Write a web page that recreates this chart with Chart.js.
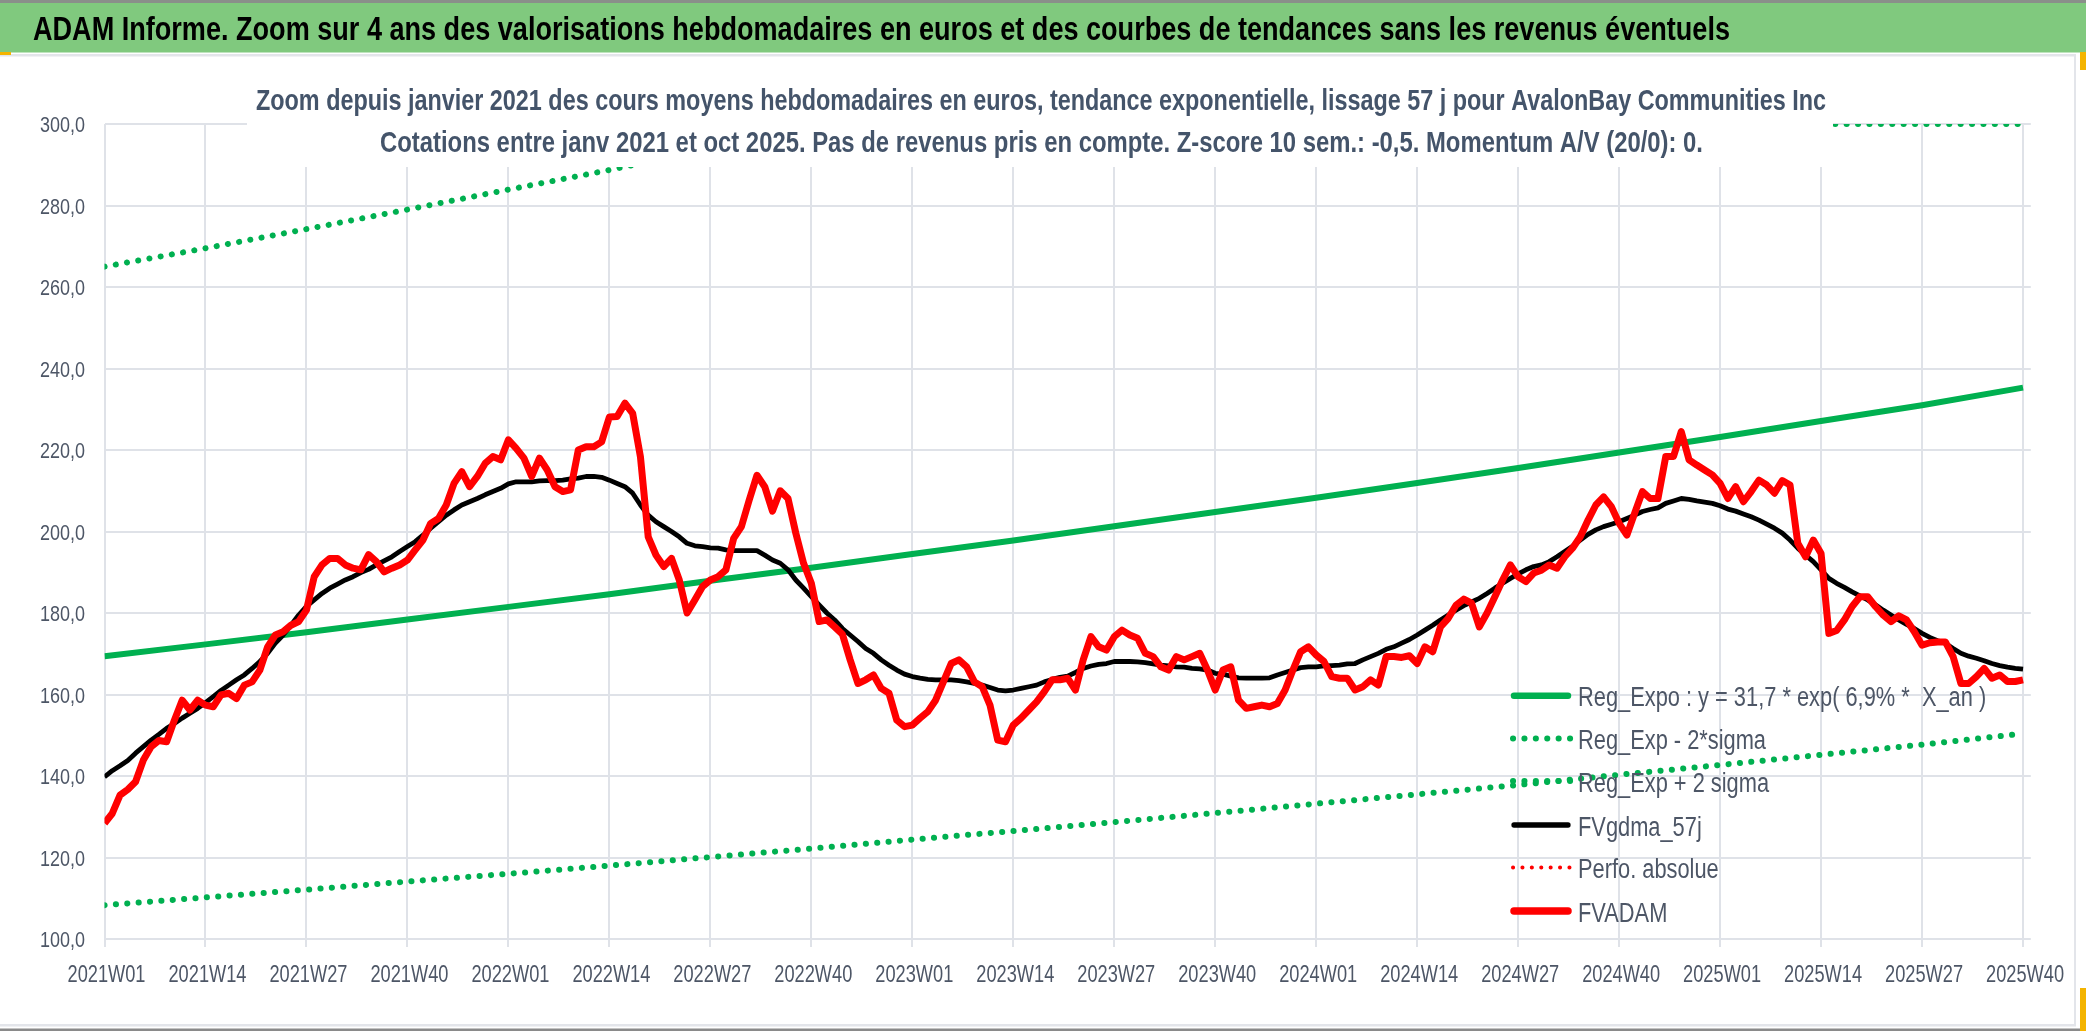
<!DOCTYPE html>
<html><head><meta charset="utf-8">
<script src="https://cdn.jsdelivr.net/npm/chart.js@4.4.1/dist/chart.umd.min.js"></script>
<style>html,body{margin:0;padding:0;background:#fff;overflow:hidden}canvas{display:block}</style>
</head><body>
<canvas id="c" width="2086" height="1031" style="width:2086px;height:1031px"></canvas>
<script>
// ---------- DATA ----------
const weekCounts = [[2021,52],[2022,52],[2023,52],[2024,52],[2025,40]];
const weekLabels = [];
for (const [yr, n] of weekCounts) for (let w = 1; w <= n; w++) weekLabels.push(yr + 'W' + String(w).padStart(2, '0'));

const tickLabels = ['2021W01','2021W14','2021W27','2021W40','2022W01','2022W14','2022W27','2022W40',
  '2023W01','2023W14','2023W27','2023W40','2024W01','2024W14','2024W27','2024W40',
  '2025W01','2025W14','2025W27','2025W40'];
const yTickValues = [100,120,140,160,180,200,220,240,260,280,300];

const fvadam = [
 128.4,130.8,135.3,136.7,138.6,143.9,147.2,148.7,148.4,153.7,
 158.6,156.2,158.6,157.4,157.0,159.9,160.3,159.0,162.3,163.1,
 166.0,171.7,174.6,175.4,177.0,177.9,180.7,188.9,191.8,193.4,
 193.4,191.8,191.0,190.6,194.3,192.6,190.1,191.0,191.8,193.0,
 195.5,197.9,202.0,203.2,206.5,211.8,214.7,211.0,213.5,216.7,
 218.4,217.6,222.5,220.4,218.0,213.5,218.0,215.1,211.0,209.8,
 210.2,220.0,220.8,220.8,222.0,228.1,228.2,231.5,229.0,218.3,
 198.7,194.2,191.4,193.4,188.1,180.0,183.2,186.5,188.1,188.9,
 190.6,198.3,201.2,207.7,213.8,211.0,205.0,210.0,208.1,199.6,
 192.2,187.3,177.9,178.3,176.6,174.8,168.5,162.7,163.6,164.8,
 161.5,160.3,153.7,152.1,152.5,154.2,155.8,158.6,163.1,167.6,
 168.5,166.8,163.1,161.9,157.4,148.8,148.4,152.5,154.2,156.2,
 158.2,160.7,163.6,163.6,164.0,161.1,168.5,174.2,171.7,170.9,
 174.2,175.8,174.6,173.8,170.1,169.3,166.8,166.0,169.3,168.5,
 169.3,170.1,166.0,161.1,166.0,166.8,158.6,156.6,157.0,157.4,
 157.0,157.8,161.1,166.0,170.5,171.7,169.7,168.1,164.4,164.0,
 164.0,161.1,161.9,163.6,162.3,169.3,169.3,169.1,169.5,167.6,
 171.7,170.5,176.6,178.7,181.9,183.4,182.4,176.6,180.0,184.0,
 188.1,191.8,188.9,187.7,189.8,190.5,191.8,191.0,193.8,195.9,
 198.7,202.8,206.5,208.5,206.1,202.0,199.1,204.5,209.8,208.1,
 208.1,218.4,218.4,224.5,217.6,216.3,215.1,213.9,211.8,208.1,
 211.0,207.3,209.8,212.6,211.4,209.4,212.5,211.4,197.1,193.8,
 197.9,194.6,175.0,175.7,178.3,181.6,184.0,184.0,181.6,179.5,
 177.9,179.3,178.3,175.4,172.1,172.7,172.9,172.9,169.3,162.7,
 162.7,164.4,166.4,164.0,164.8,163.2,163.2,163.6
];
const fvgdma57 = [
 139.8,141.3,142.5,143.8,145.6,147.2,148.8,150.2,151.7,152.9,
 154.2,155.4,156.6,158.0,159.5,161.0,162.3,163.6,164.8,166.4,
 168.1,170.1,172.6,174.6,177.0,179.5,181.6,183.2,184.8,186.1,
 187.1,188.1,188.9,189.9,190.7,191.8,192.8,193.8,195.1,196.3,
 197.5,199.1,200.8,202.4,204.0,205.3,206.5,207.3,208.1,209.0,
 209.8,210.6,211.7,212.2,212.2,212.2,212.4,212.5,212.5,212.6,
 212.9,213.1,213.5,213.5,213.3,212.6,211.8,211.0,209.4,206.5,
 204.0,202.4,201.2,200.0,198.7,197.1,196.5,196.3,196.0,195.9,
 195.5,195.3,195.3,195.3,195.3,194.2,193.0,192.2,190.6,188.1,
 186.1,184.0,182.0,180.0,178.3,176.2,174.6,173.0,171.3,170.1,
 168.5,167.2,166.0,165.0,164.4,164.0,163.7,163.6,163.6,163.6,
 163.4,163.1,162.7,162.3,161.7,161.1,160.9,161.1,161.5,161.9,
 162.3,163.1,163.7,164.2,164.5,165.4,166.4,167.0,167.4,167.6,
 168.1,168.1,168.1,168.0,167.8,167.5,167.2,167.0,166.8,166.7,
 166.4,166.3,166.0,165.2,165.0,164.5,164.1,164.0,164.0,164.0,
 164.1,164.8,165.4,166.0,166.6,166.8,166.8,167.0,167.1,167.2,
 167.5,167.6,168.5,169.3,170.1,171.1,171.7,172.6,173.5,174.6,
 175.8,177.0,178.3,179.5,180.7,181.8,182.7,183.6,184.8,186.1,
 187.3,188.5,189.6,190.6,191.4,191.8,192.6,193.8,195.1,196.4,
 197.9,199.3,200.4,201.2,201.8,202.4,203.2,204.0,204.9,205.4,
 205.8,206.9,207.5,208.1,207.9,207.5,207.2,206.9,206.3,205.5,
 205.0,204.3,203.6,202.8,201.8,200.8,199.6,197.9,195.9,194.2,
 192.6,190.6,188.5,187.3,186.3,185.2,184.2,183.2,182.0,180.7,
 179.5,178.3,177.2,176.2,175.0,174.0,173.2,172.6,171.3,170.1,
 169.4,168.9,168.3,167.6,167.1,166.7,166.4,166.2
];
// trend curves read at the tick weeks
const trendWeeks = tickLabels;
const regExpo = [169.4,172.3,175.3,178.4,181.5,184.6,187.9,191.1,194.5,197.8,201.3,204.8,208.3,211.9,215.6,219.4,223.2,227.1,231.0,235.3];
const regExpLow = [108.3,110.2,112.1,114.1,116.0,118.0,120.1,122.2,124.4,126.5,128.7,130.9,133.2,135.5,137.8,140.3,142.7,145.2,147.7,150.4];
const regExpHigh = [265.0,269.5,274.2,279.0,283.9,288.7,293.9,298.9,300,300,300,300,300,300,300,300,300,300,300,300];
const perfoAbsolue = [];

const titleText = 'ADAM Informe. Zoom sur 4 ans des valorisations hebdomadaires en euros et des courbes de tendances sans les revenus éventuels';
const subTitle1 = 'Zoom depuis janvier 2021 des cours moyens hebdomadaires en euros, tendance exponentielle, lissage 57 j pour AvalonBay Communities Inc';
const subTitle2 = 'Cotations entre janv 2021 et oct 2025. Pas de revenus pris en compte. Z-score 10 sem.: -0,5. Momentum A/V (20/0): 0.';
const legendLabels = ['Reg_Expo : y = 31,7 * exp( 6,9% *  X_an )','Reg_Exp - 2*sigma','Reg_Exp + 2 sigma','FVgdma_57j','Perfo. absolue','FVADAM'];

// ---------- STYLE ----------
const tmp = document.createElement('canvas').getContext('2d');
function hasFont(f){ tmp.font='40px monospace'; const a=tmp.measureText('abcdefghijW01').width; tmp.font='40px "'+f+'", monospace'; return tmp.measureText('abcdefghijW01').width!==a; }
const FAM = hasFont('Liberation Sans Narrow') ? '"Liberation Sans Narrow"' : (hasFont('Liberation Sans') ? '"Liberation Sans"' : 'sans-serif');
const TXT = '#4d5666';
const GRID = '#dfe2e8';
const GREEN = '#00b050';

const toXY = (arr) => arr.map((v, i) => ({x: i, y: v}));
const trendXY = (arr) => arr.map((v, k) => ({x: weekLabels.indexOf(trendWeeks[k]), y: v}));
const tickIdx = tickLabels.map(l => weekLabels.indexOf(l));

const dotted = (gap) => [0.1, gap];

const datasets = [
  {label: legendLabels[0], data: trendXY(regExpo), borderColor: GREEN, borderWidth: 6, order: 3},
  {label: legendLabels[1], data: trendXY(regExpLow), borderColor: GREEN, borderWidth: 6, borderDash: dotted(11.3), borderCapStyle: 'round', order: 4},
  {label: legendLabels[2], data: trendXY(regExpHigh), borderColor: GREEN, borderWidth: 6, borderDash: dotted(11.3), borderCapStyle: 'round', order: 5},
  {label: legendLabels[3], data: toXY(fvgdma57), borderColor: '#000000', borderWidth: 4.8, order: 2},
  {label: legendLabels[4], data: toXY(perfoAbsolue), borderColor: '#ff0000', borderWidth: 4, borderDash: dotted(9.3), borderCapStyle: 'round', order: 1},
  {label: legendLabels[5], data: toXY(fvadam), borderColor: '#ff0000', borderWidth: 7, order: 0},
];
datasets.forEach(d => { d.pointRadius = 0; d.tension = 0; d.fill = false; d.borderJoinStyle = 'round'; d.spanGaps = true; });

function fitText(ctx, text, x, y, width, font, color) {
  ctx.save();
  ctx.font = font;
  const w = ctx.measureText(text).width;
  ctx.translate(x, y);
  ctx.scale(width / w, 1);
  ctx.fillStyle = color;
  ctx.textAlign = 'left';
  ctx.textBaseline = 'alphabetic';
  ctx.fillText(text, 0, 0);
  ctx.restore();
}
function squeezeText(ctx, text, x, y, sx, font, color, align) {
  ctx.save();
  ctx.font = font;
  ctx.translate(x, y);
  ctx.scale(sx, 1);
  ctx.fillStyle = color;
  ctx.textAlign = align;
  ctx.textBaseline = 'alphabetic';
  ctx.fillText(text, 0, 0);
  ctx.restore();
}

const framePlugin = {
  id: 'frame',
  beforeDraw(chart) {
    const ctx = chart.ctx;
    ctx.save();
    ctx.fillStyle = '#ffffff';
    ctx.fillRect(0, 0, 2086, 1031);
    ctx.fillStyle = '#8a8f8a';
    ctx.fillRect(0, 0, 2086, 3);
    ctx.fillStyle = '#80c97e';
    ctx.fillRect(0, 3, 2086, 49.5);
    ctx.fillStyle = '#e3e5ea';
    ctx.fillRect(0, 54, 2076, 2.5);
    ctx.fillRect(2074, 54, 2, 972);
    ctx.fillRect(0, 1024, 2076, 2.5);
    ctx.fillStyle = '#8a8a8a';
    ctx.fillRect(0, 1028.5, 2086, 2.5);
    ctx.fillStyle = '#f4b400';
    ctx.fillRect(0, 52, 11, 3);
    ctx.fillRect(2080, 52, 6, 18);
    ctx.fillRect(2080, 988, 6, 43);
    ctx.restore();
    fitText(ctx, titleText, 33, 39.5, 1697, 'bold 32.5px ' + FAM, '#000000');
  },
  afterDatasetsDraw(chart) {
    const ctx = chart.ctx;
    ctx.save();
    ctx.fillStyle = '#ffffff';
    ctx.fillRect(247, 60, 1833 - 247, 107);
    ctx.restore();
    fitText(ctx, subTitle1, 256, 109.5, 1570, 'bold 29.5px ' + FAM, '#44546a');
    fitText(ctx, subTitle2, 380, 151.5, 1323, 'bold 29.5px ' + FAM, '#44546a');

    // axis tick labels, positioned by the chart's scales
    const xs = chart.scales.x, ys = chart.scales.y;
    const xf = '23.5px ' + FAM;
    ctx.font = xf;
    const sxX = 78 / ctx.measureText(tickLabels[0]).width;
    xs.ticks.forEach(t => {
      squeezeText(ctx, weekLabels[t.value], xs.getPixelForValue(t.value) + 2, 981.5, sxX, xf, TXT, 'center');
    });
    const yf = '22.5px ' + FAM;
    ctx.font = yf;
    const sxY = 45 / ctx.measureText('300,0').width;
    ys.ticks.forEach(t => {
      squeezeText(ctx, t.value.toFixed(1).replace('.', ','), 85, ys.getPixelForValue(t.value) + 8, sxY, yf, TXT, 'right');
    });
  },
  afterDraw(chart) {
    const ctx = chart.ctx;
    const rows = [695.7, 738.6, 781, 825, 867.5, 911];
    ctx.save();
    const lf = '27px ' + FAM;
    ctx.font = lf;
    const sc = 188 / ctx.measureText(legendLabels[1]).width;
    chart.data.datasets.forEach((ds, k) => {
      const y = rows[k];
      ctx.save();
      ctx.strokeStyle = ds.borderColor;
      ctx.lineWidth = ds.borderWidth + (ds.borderDash ? 0 : 0.5);
      ctx.lineCap = 'round';
      ctx.setLineDash(ds.borderDash || []);
      ctx.beginPath();
      ctx.moveTo(ds.borderDash ? 1513 : 1514, y);
      ctx.lineTo(ds.borderDash ? 1571 : 1568, y);
      ctx.stroke();
      ctx.restore();
      squeezeText(ctx, ds.label, 1578, y + 10.5, sc, lf, TXT, 'left');
    });
    ctx.restore();
  }
};

new Chart(document.getElementById('c'), {
  type: 'line',
  data: {datasets},
  plugins: [framePlugin],
  options: {
    responsive: false, animation: false, devicePixelRatio: 1,
    layout: {padding: {left: 0, right: 2086 - 2030.8, top: 124, bottom: 0}},
    plugins: {legend: {display: false}, tooltip: {enabled: false}, title: {display: false}},
    scales: {
      x: {
        type: 'linear', min: 0, max: 248,
        afterBuildTicks: s => { s.ticks = tickIdx.map(v => ({value: v})); },
        afterFit: s => { s.height = 1031 - 939; },
        grid: {color: GRID, lineWidth: 2, tickLength: 8, drawTicks: true},
        border: {display: false},
        ticks: {display: false, autoSkip: false, maxRotation: 0, callback: v => weekLabels[v]}
      },
      y: {
        min: 100, max: 300,
        afterBuildTicks: s => { s.ticks = yTickValues.map(v => ({value: v})); },
        afterFit: s => { s.width = 104.5; },
        grid: {color: GRID, lineWidth: 2, drawTicks: false},
        border: {display: false},
        ticks: {display: false, callback: v => v.toFixed(1).replace('.', ',')}
      }
    }
  }
});
</script>
</body></html>
